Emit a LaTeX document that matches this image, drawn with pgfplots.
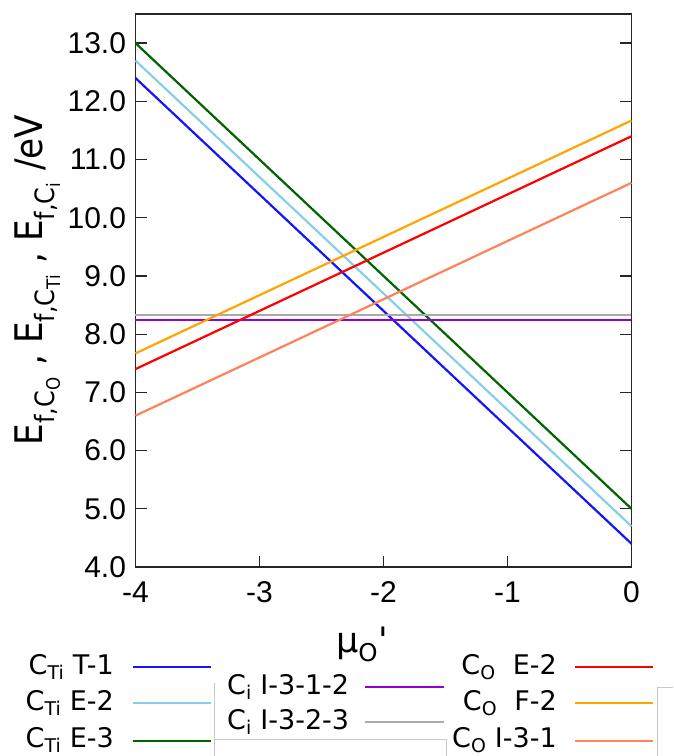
\documentclass[border=0pt]{standalone}
\usepackage{pgfplots}
\pgfplotsset{compat=1.18}
\usepackage{fontspec}
\setmainfont{Liberation Sans}
\newfontfamily\lgd{DejaVu Sans}
\newfontfamily\ylab{DejaVu Sans Condensed}
\newfontfamily\mufont[Ligatures=ResetAll]{DejaVu Sans}
\definecolor{cblue}{RGB}{20,20,255}
\definecolor{clblue}{RGB}{135,206,235}
\definecolor{cgreen}{RGB}{0,100,0}
\definecolor{cpurple}{RGB}{148,0,211}
\definecolor{cgray}{RGB}{170,170,170}
\definecolor{cred}{RGB}{255,0,0}
\definecolor{corange}{RGB}{255,165,0}
\definecolor{csalmon}{RGB}{255,130,90}
\definecolor{boxgray}{RGB}{200,200,200}
\begin{document}
\begin{tikzpicture}
\useasboundingbox (-135.5pt,-189pt) rectangle (537.5pt,567pt);
\begin{axis}[
  at={(0pt,0pt)}, anchor=south west,
  scale only axis, width=496pt, height=553pt,
  xmin=-4, xmax=0, ymin=4, ymax=13.5,
  xtick={-4,-3,-2,-1,0},
  ytick={4,5,6,7,8,9,10,11,12,13},
  xtick pos=lower, ytick pos=both,
  tick align=inside,
  major tick length=11pt,
  axis line style={line width=1.3pt, black!85},
  every tick/.style={line width=1.3pt, black!85},
  /pgf/number format/assume math mode=true,
  yticklabel={\pgfmathprintnumber[fixed,fixed zerofill,precision=1]{\tick}},
  ticklabel style={font=\fontsize{30}{32}\selectfont},
  yticklabel style={xshift=-6pt},
  xticklabel style={yshift=-11pt},
  clip=false,
]
% C_Ti lines
\addplot[cblue, line width=2.2pt] coordinates {(-4,12.4) (0,4.4)};
\addplot[clblue, line width=2.2pt] coordinates {(-4,12.7) (0,4.7)};
\addplot[cgreen, line width=2.2pt] coordinates {(-4,13.0) (0,5.0)};
% C_i lines
\addplot[cgray, line width=2.2pt] coordinates {(-4,8.33) (0,8.33)};
\addplot[cpurple, line width=2.2pt] coordinates {(-4,8.25) (0,8.25)};
% C_O lines
\addplot[cred, line width=2.2pt] coordinates {(-4,7.4) (0,11.4)};
\addplot[corange, line width=2.2pt] coordinates {(-4,7.67) (0,11.67)};
\addplot[csalmon, line width=2.2pt] coordinates {(-4,6.6) (0,10.6)};
\end{axis}
% y label
\node[rotate=90, anchor=base, inner sep=0pt, font=\ylab\fontsize{38}{40}\selectfont] at (-92.5pt,287pt)
  {E\textsubscript{f,C\textsubscript{O}}\ ,\ E\textsubscript{f,C\textsubscript{Ti}}\ ,\ E\textsubscript{f,C\textsubscript{i}}\ /eV};
% x label
\node[anchor=base, inner sep=0pt, font=\mufont\fontsize{35}{37}\selectfont] at (226.5pt,-85pt)
  {μ\textsubscript{O}'};
% legend box fragments
\draw[boxgray, line width=0.8pt] (78.5pt,-189pt) -- (78.5pt,-116pt);
\draw[boxgray, line width=0.8pt] (78.5pt,-172pt) -- (310.5pt,-172pt) -- (310.5pt,-189pt);
\draw[boxgray, line width=0.8pt] (521.5pt,-189pt) -- (521.5pt,-120pt) -- (537.5pt,-120pt);
% legend texts
\begin{scope}[every node/.style={inner sep=0pt, font=\lgd\fontsize{27}{29}\selectfont}]
\node[anchor=base east] at (-21.5pt,-107pt) {C\textsubscript{Ti} T-1};
\node[anchor=base east] at (-21.5pt,-143pt) {C\textsubscript{Ti} E-2};
\node[anchor=base east] at (-21.5pt,-180pt) {C\textsubscript{Ti} E-3};
\node[anchor=base west] at (91.5pt,-127pt) {C\textsubscript{i} I-3-1-2};
\node[anchor=base west] at (91.5pt,-162pt) {C\textsubscript{i} I-3-2-3};
\node[anchor=base east] at (421.5pt,-107pt) {C\textsubscript{O}\ \ E-2};
\node[anchor=base east] at (421.5pt,-143pt) {C\textsubscript{O}\ \ F-2};
\node[anchor=base east] at (421.5pt,-180pt) {C\textsubscript{O} I-3-1};
\end{scope}
\draw[cblue, line width=2.5pt] (-2.5pt,-100pt) -- (75.5pt,-100pt);
\draw[clblue, line width=2.5pt] (-2.5pt,-136pt) -- (75.5pt,-136pt);
\draw[cgreen, line width=2.5pt] (-2.5pt,-174pt) -- (75.5pt,-174pt);
\draw[cpurple, line width=2.5pt] (229.5pt,-120pt) -- (308.5pt,-120pt);
\draw[cgray, line width=2.5pt] (229.5pt,-155pt) -- (308.5pt,-155pt);
\draw[cred, line width=2.5pt] (439.5pt,-100pt) -- (517.5pt,-100pt);
\draw[corange, line width=2.5pt] (439.5pt,-136pt) -- (517.5pt,-136pt);
\draw[csalmon, line width=2.5pt] (439.5pt,-174pt) -- (517.5pt,-174pt);
\end{tikzpicture}
\end{document}
